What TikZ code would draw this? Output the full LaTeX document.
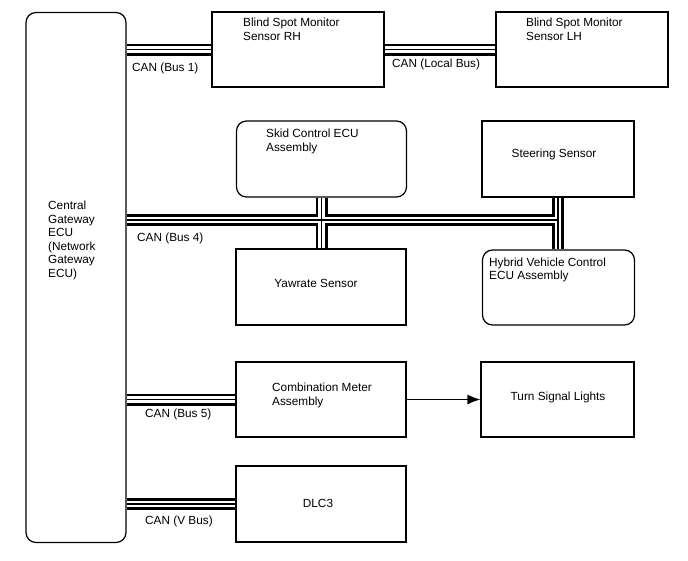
\documentclass[tikz,border=0pt]{standalone}
\usepackage{fontspec}
\setmainfont{Liberation Sans}
\usetikzlibrary{arrows.meta,backgrounds}
\begin{document}
\begin{tikzpicture}[x=1pt,y=-1pt,
  box/.style={draw,line width=1.2pt,inner sep=0pt},
  rbox/.style={box,rounded corners=10pt},
  txt/.style={inner sep=0pt,font=\fontsize{11.8pt}{13.6pt}\selectfont,align=left,anchor=north west},
  lbl/.style={inner sep=0pt,font=\fontsize{11.8pt}{13.6pt}\selectfont},
  arr/.style={line width=1.2pt,-{Latex[length=13pt,width=10pt]}}]
\useasboundingbox (0,0) rectangle (688,560);

% boxes
\node[rbox,minimum width=100pt,minimum height=530pt] (ecu) at (76,277.5) {};
\node[box,minimum width=172pt,minimum height=75pt] (rh) at (298,49.5) {};
\node[box,minimum width=172pt,minimum height=75pt] (lh) at (582,49.5) {};
\node[rbox,minimum width=170pt,minimum height=76pt] (skid) at (321.5,159) {};
\node[box,minimum width=152pt,minimum height=76pt] (steer) at (558,159) {};
\node[box,minimum width=170pt,minimum height=76pt] (yaw) at (321,287) {};
\node[rbox,minimum width=152pt,minimum height=75pt] (hyb) at (558.5,287.5) {};
\node[box,minimum width=170pt,minimum height=75pt] (comb) at (321,399.5) {};
\node[box,minimum width=153pt,minimum height=75pt] (turn) at (557.5,399.5) {};
\node[box,minimum width=170pt,minimum height=76pt] (dlc) at (321,504) {};

% texts
\node[txt] (ecut) at (48,200.8) {Central\\Gateway\\ECU\\(Network\\Gateway\\ECU)};
\node[txt] (rht) at (243,18) {Blind Spot Monitor\\Sensor RH};
\node[txt] (lht) at (526,18) {Blind Spot Monitor\\Sensor LH};
\node[txt] (skidt) at (266,129) {Skid Control ECU\\Assembly};
\node[lbl] (steert) at (554,154) {Steering Sensor};
\node[lbl] (yawt) at (316,283) {Yawrate Sensor};
\node[txt] (hybt) at (489,257.5) {Hybrid Vehicle Control\\ECU Assembly};
\node[txt] (combt) at (272,383) {Combination Meter\\Assembly};
\node[lbl] (turnt) at (558,397) {Turn Signal Lights};
\node[lbl] (dlct) at (318,503) {DLC3};

% bus labels
\node[lbl,anchor=west] (l1) at (132,68) {CAN (Bus 1)};
\node[lbl,anchor=west] (l2) at (392,64) {CAN (Local Bus)};
\node[lbl,anchor=west] (l4) at (137,238.5) {CAN (Bus 4)};
\node[lbl,anchor=west] (l5) at (145,414) {CAN (Bus 5)};
\node[lbl,anchor=west] (lv) at (145,521.5) {CAN (V Bus)};

\coordinate (j1) at (skid.south |- 0,220);
\coordinate (j2) at (steer.south |- 0,220);

% buses
\begin{pgfonlayer}{background}
\foreach \w/\c in {12/black,6.4/white,1.1/black}{
  \draw[line width=\w pt,\c] (ecu.east |- rh.west) -- (rh.west);
  \draw[line width=\w pt,\c] (rh.east) -- (lh.west);
  \draw[line width=\w pt,\c] (ecu.east |- j1) -- (j2);
  \draw[line width=\w pt,\c] (skid.south) -- (yaw.north -| skid.south);
  \draw[line width=\w pt,\c] (steer.south) -- (hyb.north -| steer.south);
  \draw[line width=\w pt,\c] (ecu.east |- comb.west) -- (comb.west);
  \draw[line width=\w pt,\c] (ecu.east |- dlc.west) -- (dlc.west);
}
\end{pgfonlayer}

\draw[arr] (comb.east) -- (turn.west);
\end{tikzpicture}
\end{document}
